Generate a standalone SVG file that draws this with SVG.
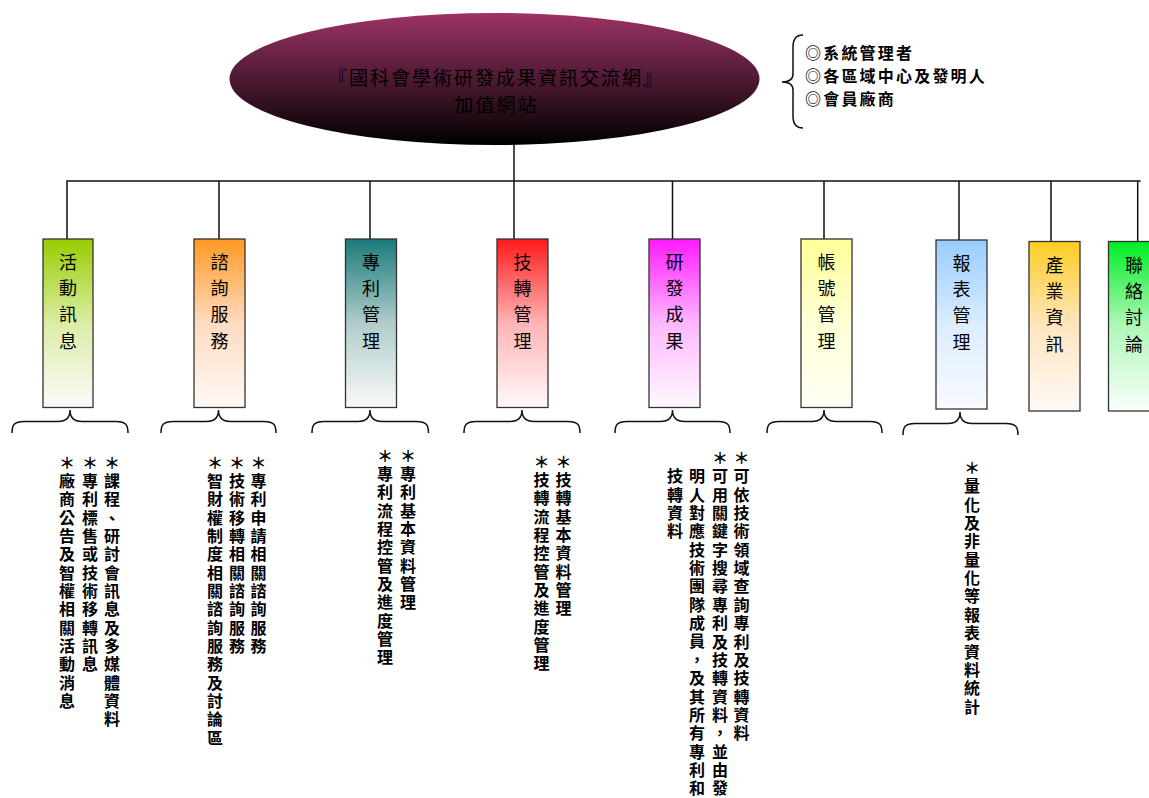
<svg xmlns="http://www.w3.org/2000/svg" width="1149" height="798" viewBox="0 0 1149 798">
<defs>
<linearGradient id="gMain" x1="0" y1="0" x2="0" y2="1"><stop offset="0" stop-color="#9c3366"/><stop offset="1" stop-color="#000000"/></linearGradient>
<linearGradient id="g1" x1="0" y1="0" x2="0" y2="1"><stop offset="0" stop-color="#99cc00"/><stop offset="0.5" stop-color="#dbeda6"/><stop offset="1" stop-color="#fbfbfb"/></linearGradient>
<linearGradient id="g2" x1="0" y1="0" x2="0" y2="1"><stop offset="0" stop-color="#ff9922"/><stop offset="0.5" stop-color="#ffdbc0"/><stop offset="1" stop-color="#fff9f7"/></linearGradient>
<linearGradient id="g3" x1="0" y1="0" x2="0" y2="1"><stop offset="0" stop-color="#1a7a7a"/><stop offset="0.5" stop-color="#b0cccc"/><stop offset="1" stop-color="#f9f9f9"/></linearGradient>
<linearGradient id="g4" x1="0" y1="0" x2="0" y2="1"><stop offset="0" stop-color="#ff1a1a"/><stop offset="0.5" stop-color="#ffb4b4"/><stop offset="1" stop-color="#fff9f9"/></linearGradient>
<linearGradient id="g5" x1="0" y1="0" x2="0" y2="1"><stop offset="0" stop-color="#ff1aff"/><stop offset="0.5" stop-color="#ffb8ff"/><stop offset="1" stop-color="#fff9ff"/></linearGradient>
<linearGradient id="g6" x1="0" y1="0" x2="0" y2="1"><stop offset="0" stop-color="#ffff99"/><stop offset="0.5" stop-color="#ffffd6"/><stop offset="1" stop-color="#fffff5"/></linearGradient>
<linearGradient id="g7" x1="0" y1="0" x2="0" y2="1"><stop offset="0" stop-color="#99ccff"/><stop offset="0.5" stop-color="#dbedff"/><stop offset="1" stop-color="#f9fbff"/></linearGradient>
<linearGradient id="g8" x1="0" y1="0" x2="0" y2="1"><stop offset="0" stop-color="#ffcc22"/><stop offset="0.5" stop-color="#ffe6c0"/><stop offset="1" stop-color="#fff9f7"/></linearGradient>
<linearGradient id="g9" x1="0" y1="0" x2="0" y2="1"><stop offset="0" stop-color="#00ee22"/><stop offset="0.5" stop-color="#b0f7ba"/><stop offset="1" stop-color="#f9fff9"/></linearGradient>
</defs>
<style>
text{font-family:"Noto Sans CJK TC","Noto Sans CJK JP",sans-serif;fill:#000}
.box{stroke:#333;stroke-width:1.3}
.lbl{font-size:18px;text-anchor:middle}
.col{font-size:16px;text-anchor:middle;font-weight:bold}
.ln{stroke:#111;stroke-width:1.5;fill:none}
.br{stroke:#111;stroke-width:1.5;fill:none}
.title{font-size:19px;text-anchor:middle;letter-spacing:2px;fill:#000}
.leg{font-size:16px;font-weight:bold;letter-spacing:2.2px}
</style>
<rect width="1149" height="798" fill="#fff"/>

<g id="connectors">
<path class="ln" d="M67,239 V181 H1140.7"/>
<path class="ln" d="M219,181 V239"/>
<path class="ln" d="M370,181 V239"/>
<path class="ln" d="M514,145 V239"/>
<path class="ln" d="M672.5,181 V239"/>
<path class="ln" d="M824,181 V239"/>
<path class="ln" d="M959,181 V240"/>
<path class="ln" d="M1051,181 V241.5"/>
<path class="ln" d="M1137.7,181 V241.5"/>
</g>

<g id="braces">
<path class="br" d="M12,433 C12,425 14,421.5 24,421.5 L58,421.5 C66,421.5 70,418 70,410 C70,418 74,421.5 82,421.5 L116,421.5 C126,421.5 128,425 128,433"/>
<path class="br" d="M161,433 C161,425 163,421.5 173,421.5 L206.5,421.5 C214.5,421.5 218.5,418 218.5,410 C218.5,418 222.5,421.5 230.5,421.5 L264,421.5 C274,421.5 276,425 276,433"/>
<path class="br" d="M312,433 C312,425 314,421.5 324,421.5 L358,421.5 C366,421.5 370,418 370,410 C370,418 374,421.5 382,421.5 L416.5,421.5 C426.5,421.5 428.5,425 428.5,433"/>
<path class="br" d="M464,433 C464,425 466,421.5 476,421.5 L510,421.5 C518,421.5 522,418 522,410 C522,418 526,421.5 534,421.5 L568,421.5 C578,421.5 580,425 580,433"/>
<path class="br" d="M615,433 C615,425 617,421.5 627,421.5 L660.5,421.5 C668.5,421.5 672.5,418 672.5,410 C672.5,418 676.5,421.5 684.5,421.5 L718,421.5 C728,421.5 730,425 730,433"/>
<path class="br" d="M767,433 C767,425 769,421.5 779,421.5 L812,421.5 C820,421.5 824,418 824,410 C824,418 828,421.5 836,421.5 L870,421.5 C880,421.5 882,425 882,433"/>
<path class="br" d="M903,435 C903,427 905,423.5 915,423.5 L948,423.5 C956,423.5 960,420 960,412 C960,420 964,423.5 972,423.5 L1006,423.5 C1016,423.5 1018,427 1018,435"/>
</g>

<g id="node-main">
<ellipse cx="494.5" cy="79" rx="265" ry="66" fill="url(#gMain)"/>
<text class="title" x="496" y="85">『國科會學術研發成果資訊交流網』</text>
<text class="title" x="496.5" y="111.5">加值網站</text>
</g>

<g id="legend">
<path class="br" d="M803,35 Q793,35 793,47 L793,74 Q793,82 782,82 Q793,82 793,90 L793,116 Q793,128 803,128"/>
<text class="leg" x="805" y="59">◎系統管理者</text>
<text class="leg" x="805" y="82">◎各區域中心及發明人</text>
<text class="leg" x="805" y="105">◎會員廠商</text>
</g>

<g id="node-huodong">
<rect class="box" x="43" y="239" width="50" height="168.5" fill="url(#g1)"/>
<text class="lbl" x="68 68 68 68" y="268.5 294.9 321.3 347.7">活動訊息</text>
</g>
<g id="node-zixun">
<rect class="box" x="194" y="239" width="51" height="168.5" fill="url(#g2)"/>
<text class="lbl" x="219.5 219.5 219.5 219.5" y="268.5 294.9 321.3 347.7">諮詢服務</text>
</g>
<g id="node-zhuanli">
<rect class="box" x="345.5" y="239" width="51" height="168.5" fill="url(#g3)"/>
<text class="lbl" x="371 371 371 371" y="268.5 294.9 321.3 347.7">專利管理</text>
</g>
<g id="node-jizhuan">
<rect class="box" x="497" y="239" width="51" height="168.5" fill="url(#g4)"/>
<text class="lbl" x="522.5 522.5 522.5 522.5" y="268.5 294.9 321.3 347.7">技轉管理</text>
</g>
<g id="node-yanfa">
<rect class="box" x="649" y="239" width="51" height="168.5" fill="url(#g5)"/>
<text class="lbl" x="674.5 674.5 674.5 674.5" y="268.5 294.9 321.3 347.7">研發成果</text>
</g>
<g id="node-zhanghao">
<rect class="box" x="801" y="239" width="51" height="168.5" fill="url(#g6)"/>
<text class="lbl" x="826.5 826.5 826.5 826.5" y="268.5 294.9 321.3 347.7">帳號管理</text>
</g>
<g id="node-baobiao">
<rect class="box" x="936" y="240" width="51" height="169" fill="url(#g7)"/>
<text class="lbl" x="961.5 961.5 961.5 961.5" y="269.5 295.9 322.3 348.7">報表管理</text>
</g>
<g id="node-chanye">
<rect class="box" x="1029" y="241.5" width="51" height="169.5" fill="url(#g8)"/>
<text class="lbl" x="1054.5 1054.5 1054.5 1054.5" y="271.5 297.9 324.3 350.7">產業資訊</text>
</g>
<g id="node-lianluo">
<rect class="box" x="1108.5" y="241.5" width="51" height="169.5" fill="url(#g9)"/>
<text class="lbl" x="1134 1134 1134 1134" y="271.5 297.9 324.3 350.7">聯絡討論</text>
</g>

<g id="desc-huodong">
<text class="col" transform="translate(112,462.5)" x="0 0 0 0 0 0 0 0 0 0 0 0 0 0 0 0 0 0 0" y="6 24.35 42.7 61.05 79.4 97.75 116.1 134.45 152.8 171.15 189.5 207.85 226.2 244.55 262.9 281.25 299.6 317.95 336.3">＊課程、研討會訊息及多媒體資料</text>
<text class="col" transform="translate(90,462.5)" x="0 0 0 0 0 0 0 0 0 0 0 0 0 0 0 0 0 0 0" y="6 24.35 42.7 61.05 79.4 97.75 116.1 134.45 152.8 171.15 189.5 207.85 226.2 244.55 262.9 281.25 299.6 317.95 336.3">＊專利標售或技術移轉訊息</text>
<text class="col" transform="translate(67,462.5)" x="0 0 0 0 0 0 0 0 0 0 0 0 0 0 0 0 0 0 0" y="6 24.35 42.7 61.05 79.4 97.75 116.1 134.45 152.8 171.15 189.5 207.85 226.2 244.55 262.9 281.25 299.6 317.95 336.3">＊廠商公告及智權相關活動消息</text>
</g>
<g id="desc-zixun">
<text class="col" transform="translate(258.5,462.5)" x="0 0 0 0 0 0 0 0 0 0 0 0 0 0 0 0 0 0 0" y="6 24.35 42.7 61.05 79.4 97.75 116.1 134.45 152.8 171.15 189.5 207.85 226.2 244.55 262.9 281.25 299.6 317.95 336.3">＊專利申請相關諮詢服務</text>
<text class="col" transform="translate(237,462.5)" x="0 0 0 0 0 0 0 0 0 0 0 0 0 0 0 0 0 0 0" y="6 24.35 42.7 61.05 79.4 97.75 116.1 134.45 152.8 171.15 189.5 207.85 226.2 244.55 262.9 281.25 299.6 317.95 336.3">＊技術移轉相關諮詢服務</text>
<text class="col" transform="translate(215,462.5)" x="0 0 0 0 0 0 0 0 0 0 0 0 0 0 0 0 0 0 0" y="6 24.35 42.7 61.05 79.4 97.75 116.1 134.45 152.8 171.15 189.5 207.85 226.2 244.55 262.9 281.25 299.6 317.95 336.3">＊智財權制度相關諮詢服務及討論區</text>
</g>
<g id="desc-zhuanli">
<text class="col" transform="translate(408,455.5)" x="0 0 0 0 0 0 0 0 0 0 0 0 0 0 0 0 0 0 0" y="6 24.35 42.7 61.05 79.4 97.75 116.1 134.45 152.8 171.15 189.5 207.85 226.2 244.55 262.9 281.25 299.6 317.95 336.3">＊專利基本資料管理</text>
<text class="col" transform="translate(385,455.5)" x="0 0 0 0 0 0 0 0 0 0 0 0 0 0 0 0 0 0 0" y="6 24.35 42.7 61.05 79.4 97.75 116.1 134.45 152.8 171.15 189.5 207.85 226.2 244.55 262.9 281.25 299.6 317.95 336.3">＊專利流程控管及進度管理</text>
</g>
<g id="desc-jizhuan">
<text class="col" transform="translate(563.5,461.5)" x="0 0 0 0 0 0 0 0 0 0 0 0 0 0 0 0 0 0 0" y="6 24.35 42.7 61.05 79.4 97.75 116.1 134.45 152.8 171.15 189.5 207.85 226.2 244.55 262.9 281.25 299.6 317.95 336.3">＊技轉基本資料管理</text>
<text class="col" transform="translate(541.5,461.5)" x="0 0 0 0 0 0 0 0 0 0 0 0 0 0 0 0 0 0 0" y="6 24.35 42.7 61.05 79.4 97.75 116.1 134.45 152.8 171.15 189.5 207.85 226.2 244.55 262.9 281.25 299.6 317.95 336.3">＊技轉流程控管及進度管理</text>
</g>
<g id="desc-yanfa">
<text class="col" transform="translate(741.5,458)" x="0 0 0 0 0 0 0 0 0 0 0 0 0 0 0 0 0 0 0" y="6 24.35 42.7 61.05 79.4 97.75 116.1 134.45 152.8 171.15 189.5 207.85 226.2 244.55 262.9 281.25 299.6 317.95 336.3">＊可依技術領域查詢專利及技轉資料</text>
<text class="col" transform="translate(720,458)" x="0 0 0 0 0 0 0 0 0 0 0 0 0 0 0 0 0 0 0" y="6 24.35 42.7 61.05 79.4 97.75 116.1 134.45 152.8 171.15 189.5 207.85 226.2 244.55 262.9 281.25 299.6 317.95 336.3">＊可用關鍵字搜尋專利及技轉資料，並由發</text>
<text class="col" transform="translate(697,476.35)" x="0 0 0 0 0 0 0 0 0 0 0 0 0 0 0 0 0 0 0" y="6 24.35 42.7 61.05 79.4 97.75 116.1 134.45 152.8 171.15 189.5 207.85 226.2 244.55 262.9 281.25 299.6 317.95 336.3">明人對應技術團隊成員，及其所有專利和</text>
<text class="col" transform="translate(675,476.35)" x="0 0 0 0 0 0 0 0 0 0 0 0 0 0 0 0 0 0 0" y="6 24.35 42.7 61.05 79.4 97.75 116.1 134.45 152.8 171.15 189.5 207.85 226.2 244.55 262.9 281.25 299.6 317.95 336.3">技轉資料</text>
</g>
<g id="desc-baobiao">
<text class="col" transform="translate(972,468)" x="0 0 0 0 0 0 0 0 0 0 0 0 0 0 0 0 0 0 0" y="6 24.35 42.7 61.05 79.4 97.75 116.1 134.45 152.8 171.15 189.5 207.85 226.2 244.55 262.9 281.25 299.6 317.95 336.3">＊量化及非量化等報表資料統計</text>
</g>
</svg>
